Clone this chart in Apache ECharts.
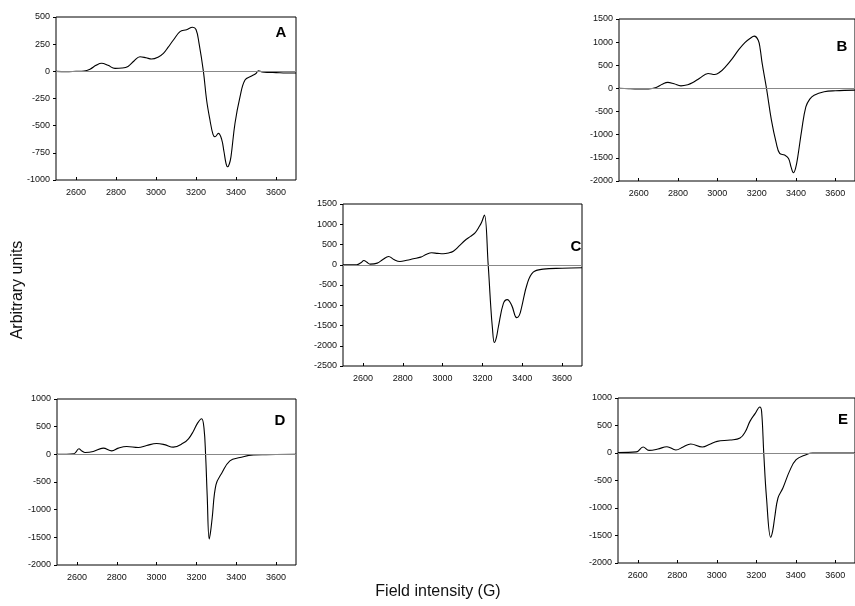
<!DOCTYPE html>
<html lang="en" style="height: 100%">
<head>
<meta charset="utf-8">
<title>EPR spectra A-E</title>
</head>
<body style="height: 100%; margin: 0; background: #fff">
<div id="container" style="width: 855px; height: 606px"></div>

<script type="text/javascript" src="https://cdn.jsdelivr.net/npm/echarts/dist/echarts.min.js"></script>

<script type="text/javascript">

// field (G) / signal pairs
var fieldA = [2500, 2550, 2600, 2640, 2670, 2700, 2728, 2760, 2795, 2830, 2860, 2890, 2920, 2950, 2978, 3010, 3037, 3060, 3087, 3120, 3153, 3183, 3200, 3215, 3237, 3253, 3270, 3285, 3295, 3312, 3328, 3340, 3350, 3358, 3367, 3375, 3395, 3420, 3445, 3478, 3500, 3512, 3530, 3560, 3600, 3650, 3700];
var signalA = [0, -3, 0, 3, 20, 55, 74, 55, 27, 30, 45, 95, 134, 125, 113, 130, 165, 220, 288, 365, 383, 405, 385, 260, 0, -264, -450, -580, -602, -571, -624, -740, -846, -878, -850, -785, -478, -235, -80, -43, -20, 5, -5, -10, -12, -15, -15];

var fieldB = [2500, 2550, 2600, 2650, 2689, 2720, 2748, 2780, 2815, 2850, 2873, 2910, 2953, 2987, 3015, 3041, 3075, 3107, 3140, 3166, 3188, 3208, 3218, 3228, 3250, 3275, 3300, 3317, 3342, 3362, 3375, 3387, 3398, 3409, 3429, 3450, 3470, 3492, 3543, 3600, 3700];
var signalB = [5, -5, -10, -10, 20, 90, 130, 100, 56, 80, 121, 220, 324, 302, 360, 467, 640, 827, 990, 1080, 1130, 1043, 850, 540, 0, -685, -1188, -1404, -1440, -1512, -1700, -1822, -1720, -1477, -900, -397, -230, -145, -73, -50, -37];

var fieldC = [2500, 2569, 2590, 2605, 2620, 2636, 2672, 2700, 2729, 2755, 2786, 2820, 2853, 2890, 2920, 2945, 2975, 3003, 3030, 3054, 3085, 3112, 3140, 3163, 3185, 3196, 3210, 3229, 3241, 3250, 3260, 3270, 3280, 3305, 3325, 3347, 3372, 3385, 3397, 3425, 3455, 3505, 3600, 3700];
var signalC = [0, 0, 50, 106, 60, 15, 40, 130, 204, 130, 81, 110, 148, 188, 260, 295, 280, 270, 290, 335, 470, 598, 700, 788, 950, 1050, 1230, 0, -961, -1550, -1921, -1800, -1537, -961, -862, -1003, -1305, -1250, -1044, -468, -182, -108, -85, -74];

var fieldD = [2500, 2585, 2610, 2625, 2641, 2682, 2732, 2775, 2808, 2850, 2908, 2950, 3000, 3040, 3084, 3134, 3160, 3184, 3205, 3226, 3238, 3246, 3254, 3264, 3271, 3279, 3298, 3327, 3368, 3419, 3486, 3550, 3700];
var signalD = [0, 10, 100, 60, 33, 50, 112, 63, 112, 141, 123, 160, 196, 175, 130, 203, 280, 413, 560, 643, 474, 0, -733, -1530, -1400, -1155, -552, -341, -118, -58, -9, -5, 0];

var fieldE = [2500, 2593, 2627, 2657, 2702, 2748, 2793, 2830, 2868, 2927, 2965, 3002, 3068, 3118, 3145, 3168, 3195, 3218, 3227, 3238, 3252, 3273, 3283, 3293, 3310, 3335, 3368, 3402, 3452, 3485, 3700];
var signalE = [10, 20, 109, 48, 72, 115, 55, 110, 164, 109, 160, 212, 236, 273, 390, 575, 720, 836, 760, 0, -818, -1533, -1420, -1182, -818, -636, -334, -121, -30, 0, 0];

var fieldTicks = [2600, 2800, 3000, 3200, 3400, 3600];

var panels = [
  {name: 'A', field: fieldA, signal: signalA, min: -1000, max: 500, step: 250,
   grid: {left: 56, top: 17, width: 240, height: 163}, label: [281, 33]},
  {name: 'B', field: fieldB, signal: signalB, min: -2000, max: 1500, step: 500,
   grid: {left: 619, top: 19, width: 240, height: 162}, label: [842, 47]},
  {name: 'C', field: fieldC, signal: signalC, min: -2500, max: 1500, step: 500,
   grid: {left: 343, top: 204, width: 239, height: 162}, label: [576, 247]},
  {name: 'D', field: fieldD, signal: signalD, min: -2000, max: 1000, step: 500,
   grid: {left: 57, top: 399, width: 239, height: 166}, label: [280, 421]},
  {name: 'E', field: fieldE, signal: signalE, min: -2000, max: 1000, step: 500,
   grid: {left: 618, top: 398, width: 240, height: 165}, label: [843, 420]}
];

var dom = document.getElementById('container');
var myChart = echarts.init(dom);

var tickFont = {fontFamily: 'Liberation Sans, Arial', fontSize: 9, color: '#111'};
var plain = function (v) { return String(v); };

var option = {
  animation: false,
  backgroundColor: '#fff',
  grid: [],
  xAxis: [],
  yAxis: [],
  series: [],
  graphic: [
    {type: 'text', x: 18, y: 290, rotation: Math.PI / 2,
     style: {text: 'Arbitrary units', font: '16px Liberation Sans, Arial', fill: '#111',
             textAlign: 'center', textVerticalAlign: 'middle'}},
    {type: 'text', x: 438, y: 592,
     style: {text: 'Field intensity (G)', font: '16px Liberation Sans, Arial', fill: '#111',
             textAlign: 'center', textVerticalAlign: 'middle'}}
  ]
};

panels.forEach(function (p, i) {
  option.grid.push({
    left: p.grid.left, top: p.grid.top, width: p.grid.width, height: p.grid.height,
    show: true, borderColor: '#000', borderWidth: 1, backgroundColor: '#fff'
  });
  option.xAxis.push({
    type: 'value', gridIndex: i, min: 2500, max: 3700,
    axisLine: {show: false, onZero: false},
    splitLine: {show: false},
    axisTick: {show: true, inside: true, length: 3, customValues: fieldTicks, lineStyle: {color: '#000'}},
    axisLabel: Object.assign({customValues: fieldTicks, margin: 8, formatter: plain}, tickFont)
  });
  option.yAxis.push({
    type: 'value', gridIndex: i, min: p.min, max: p.max, interval: p.step,
    axisLine: {show: false, onZero: false},
    splitLine: {show: false},
    axisTick: {show: true, length: 3, lineStyle: {color: '#000'}},
    axisLabel: Object.assign({margin: 6, formatter: plain}, tickFont)
  });
  option.series.push({
    type: 'line', xAxisIndex: i, yAxisIndex: i,
    data: p.field.map(function (g, k) { return [g, p.signal[k]]; }),
    showSymbol: false, smooth: 0.4,
    lineStyle: {color: '#000', width: 1.1},
    markLine: {
      silent: true, symbol: 'none', label: {show: false},
      lineStyle: {color: '#888', width: 1, type: 'solid'},
      data: [{yAxis: 0}]
    }
  });
  option.graphic.push({
    type: 'text', x: p.label[0], y: p.label[1],
    style: {text: p.name, font: 'bold 15px Liberation Sans, Arial', fill: '#000',
            textAlign: 'center', textVerticalAlign: 'middle'}
  });
});

if (option && typeof option === 'object') {
  myChart.setOption(option);
}

window.addEventListener('resize', myChart.resize);
</script>
</body>
</html>
